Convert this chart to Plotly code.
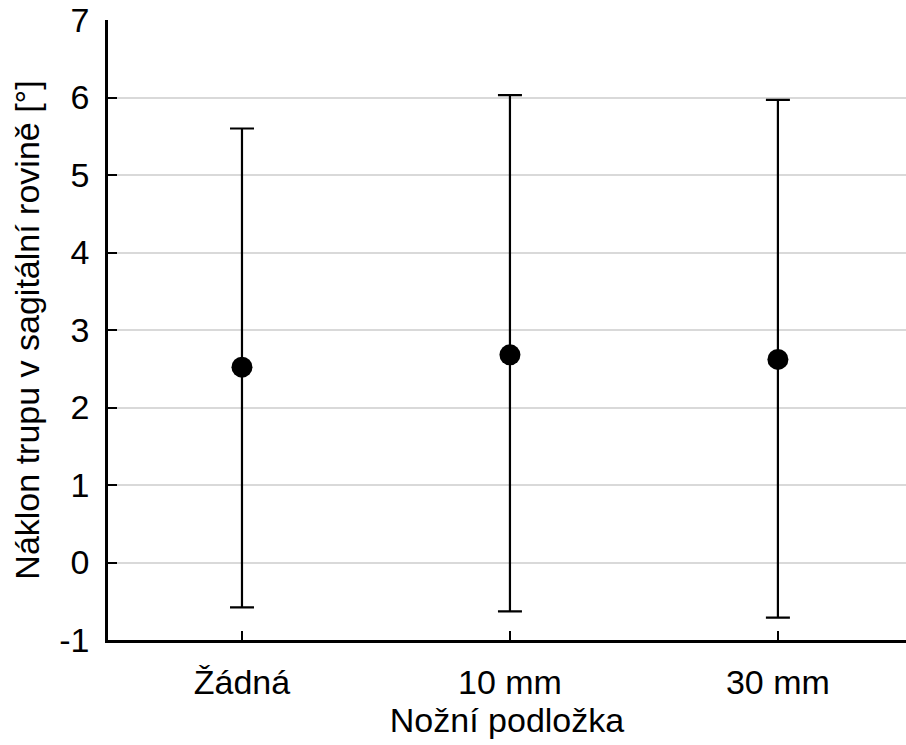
import plotly.graph_objects as go

categories = ["Žádná", "10 mm", "30 mm"]
means = [2.52, 2.68, 2.62]
upper = [5.60, 6.03, 5.97]
lower = [-0.58, -0.63, -0.71]
y_ticks = [-1, 0, 1, 2, 3, 4, 5, 6, 7]
y_tick_labels = ["-1", "0", "1", "2", "3", "4", "5", "6", "7"]

err_plus = [u - m for u, m in zip(upper, means)]
err_minus = [m - l for m, l in zip(means, lower)]

font_family = "Liberation Sans, Arial, sans-serif"

fig = go.Figure()
fig.add_trace(go.Scatter(
    x=[0, 1, 2],
    y=means,
    mode="markers",
    marker=dict(color="black", size=21),
    error_y=dict(type="data", symmetric=False, array=err_plus, arrayminus=err_minus,
                 color="black", thickness=2.2, width=12),
    showlegend=False,
))

fig.update_layout(
    width=906, height=745,
    margin=dict(l=108, r=0, t=20, b=105),
    paper_bgcolor="white", plot_bgcolor="white",
    font=dict(family=font_family, color="black"),
)
fig.update_xaxes(
    range=[-0.5, 2.478],
    tickmode="array", tickvals=[0, 1, 2], ticktext=categories,
    ticks="inside", ticklen=9, tickwidth=2, tickcolor="black",
    showline=True, linecolor="black", linewidth=2.5,
    showgrid=False, zeroline=False,
    ticklabelstandoff=10,
    tickfont=dict(size=34, family=font_family),
    title=dict(text="Nožní podložka", font=dict(size=34, family=font_family), standoff=6),
)
fig.update_yaxes(
    range=[-1, 7],
    tickmode="array", tickvals=y_ticks, ticktext=y_tick_labels,
    ticks="inside", ticklen=9, tickwidth=2, tickcolor="black",
    showline=True, linecolor="black", linewidth=2.5,
    showgrid=True, gridcolor="#d9d9d9", gridwidth=1.5,
    zeroline=False,
    ticklabelstandoff=9,
    tickfont=dict(size=34, family=font_family),
    title=dict(text="Náklon trupu v sagitální rovině [°]", font=dict(size=34, family=font_family), standoff=10),
)

fig.write_html("out.html")
